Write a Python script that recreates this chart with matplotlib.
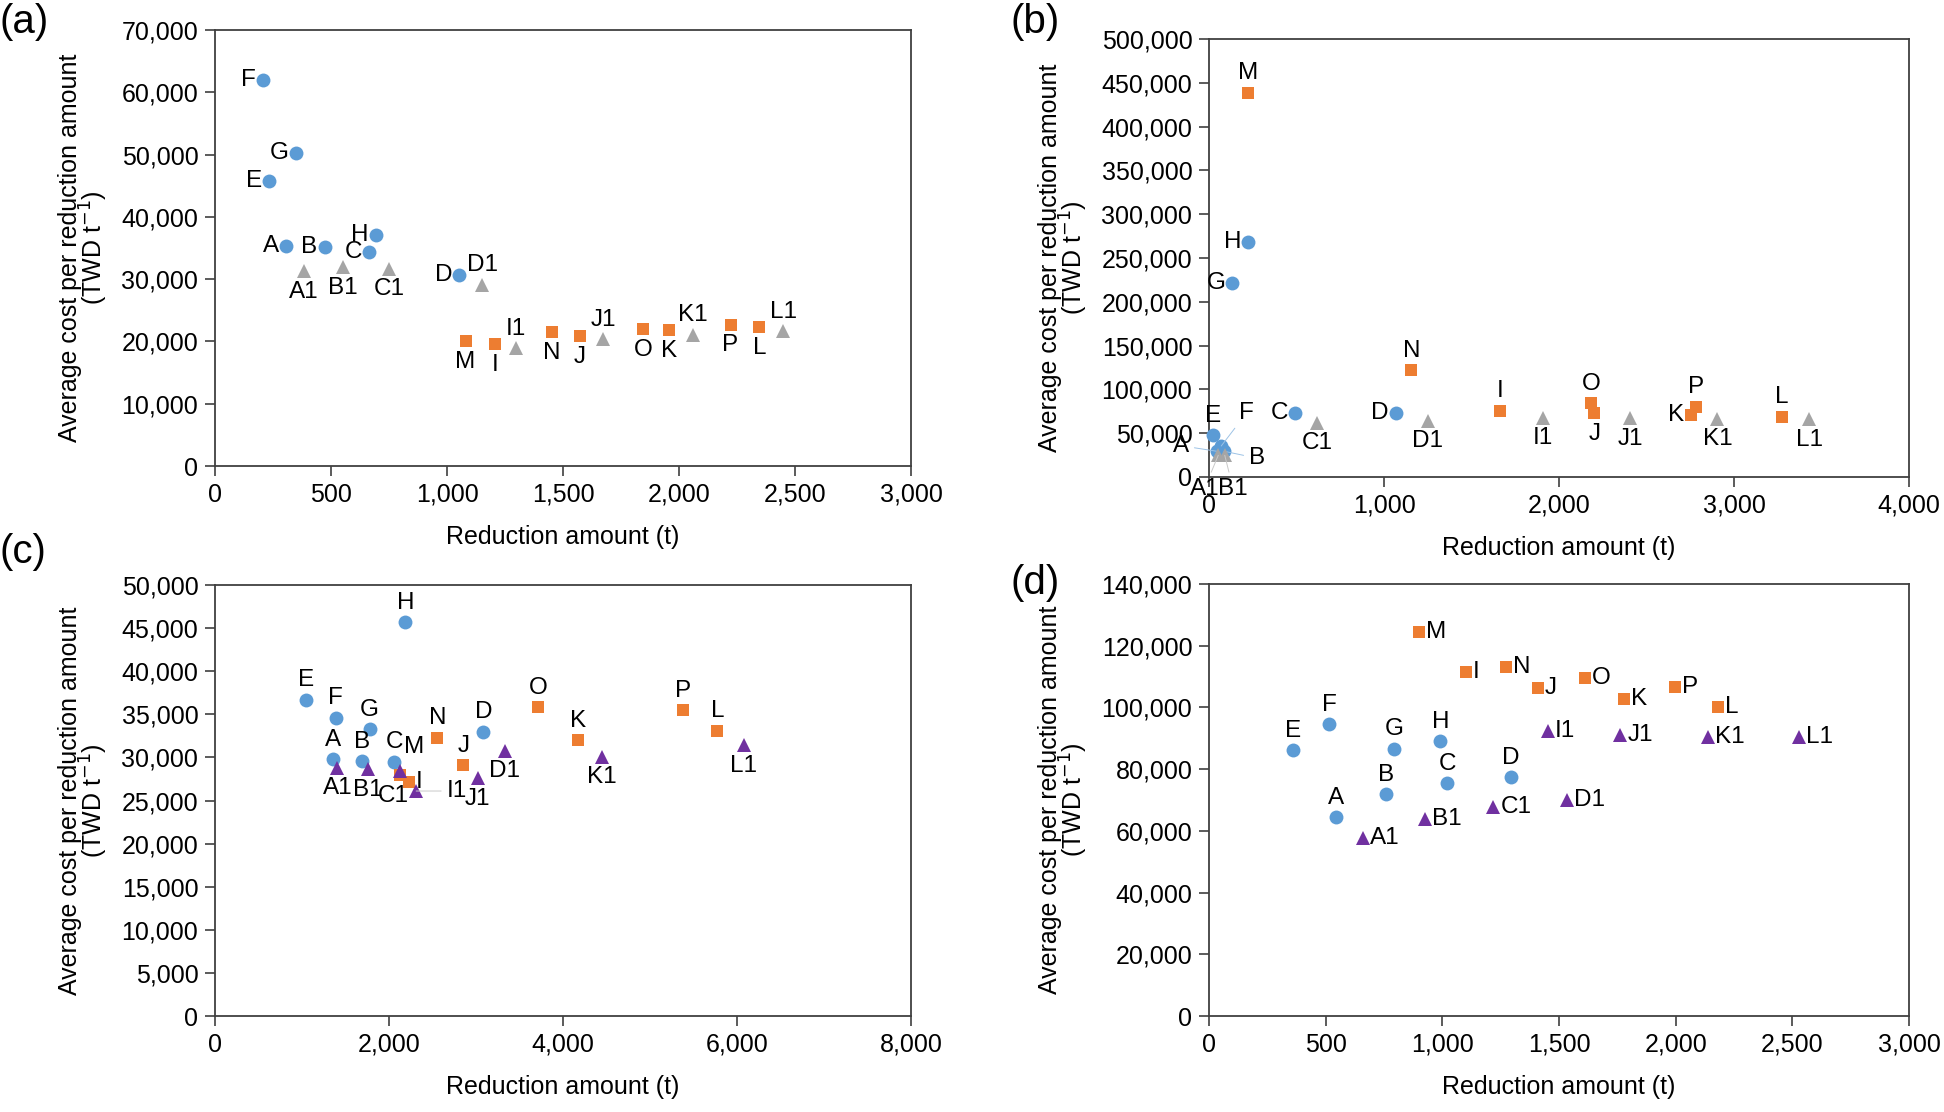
import matplotlib.pyplot as plt
from matplotlib.ticker import FuncFormatter, MultipleLocator

plt.rcParams['font.family'] = ['Liberation Sans', 'DejaVu Sans']

# point names shared by all panels
circle_names = ['A', 'B', 'C', 'D', 'E', 'F', 'G', 'H']
square_names = ['I', 'J', 'K', 'L', 'M', 'N', 'O', 'P']
tri_names = ['A1', 'B1', 'C1', 'D1', 'I1', 'J1', 'K1', 'L1']

# panel (a)
a_circle_x = [306, 472, 664, 1052, 232, 208, 349, 692]
a_circle_y = [35300, 35100, 34300, 30700, 45700, 61900, 50300, 37100]
a_square_x = [1206, 1573, 1956, 2346, 1080, 1451, 1845, 2222]
a_square_y = [19600, 20900, 21800, 22300, 20000, 21500, 22000, 22700]
a_tri_x = [383, 552, 750, 1152, 1297, 1673, 2059, 2450]
a_tri_y = [31300, 31900, 31700, 29100, 18900, 20400, 21100, 21600]

# panel (b)
b_circle_x = [44, 86, 493, 1067, 25, 70, 133, 225]
b_circle_y = [29400, 29400, 72800, 72800, 47600, 35400, 221700, 268300]
b_square_x = [1663, 2201, 2755, 3275, 225, 1156, 2185, 2783]
b_square_y = [75900, 72700, 70800, 68900, 438600, 121700, 84100, 80300]
b_tri_x = [53, 90, 619, 1251, 1908, 2406, 2905, 3430]
b_tri_y = [24800, 24800, 62100, 64400, 67800, 67000, 66700, 66300]

# panel (c)
c_circle_x = [1359, 1692, 2059, 3085, 1045, 1389, 1776, 2189]
c_circle_y = [29800, 29600, 29500, 33000, 36700, 34600, 33300, 45700]
c_square_x = [2231, 2855, 4173, 5773, 2128, 2556, 3715, 5375]
c_square_y = [27100, 29100, 32000, 33100, 28000, 32300, 35800, 35500]
c_tri_x = [1408, 1753, 2128, 3333, 2312, 3020, 4445, 6076]
c_tri_y = [28800, 28600, 28400, 30800, 26100, 27600, 30100, 31400]

# panel (d)
d_circle_x = [544, 760, 1022, 1294, 361, 515, 793, 992]
d_circle_y = [64500, 71900, 75400, 77300, 86200, 94600, 86600, 89100]
d_square_x = [1100, 1408, 1780, 2183, 900, 1272, 1611, 1996]
d_square_y = [111600, 106200, 102700, 100000, 124400, 113200, 109500, 106500]
d_tri_x = [658, 927, 1219, 1536, 1451, 1763, 2139, 2527]
d_tri_y = [57700, 63900, 67700, 70000, 92500, 91000, 90500, 90500]

BLUE = '#5B9BD5'
ORANGE = '#ED7D31'
GRAY = '#A5A5A5'
PURPLE = '#7030A0'

FS = 18      # ticks / axis titles
LFS = 17.5   # point labels

W, H = 1944, 1112
fig = plt.figure(figsize=(W / 100, H / 100), dpi=100)


def rect(l, r, t, b):
    return [l / W, 1 - b / H, (r - l) / W, (b - t) / H]


# label placement: direction -> offset (points), ha, va
OFF = {
    'l': ((-5, 0), 'right', 'center'),
    'r': ((5, 0), 'left', 'center'),
    'a': ((0, 6), 'center', 'bottom'),
    'b': ((0, -7), 'center', 'top'),
}


def setup(ax, xmax, xstep, ymax, ystep):
    ax.set_xlim(0, xmax)
    ax.set_ylim(0, ymax)
    ax.xaxis.set_major_locator(MultipleLocator(xstep))
    ax.yaxis.set_major_locator(MultipleLocator(ystep))
    fmt = FuncFormatter(lambda v, p: f'{v:,.0f}')
    ax.xaxis.set_major_formatter(fmt)
    ax.yaxis.set_major_formatter(fmt)
    ax.tick_params(direction='out', length=7, width=1.2, labelsize=FS,
                   color='#404040', pad=5)
    for s in ax.spines.values():
        s.set_color('#404040')
        s.set_linewidth(1.3)
    ax.set_xlabel('Reduction amount (t)', fontsize=FS, labelpad=13)
    ax.set_ylabel('Average cost per reduction amount\n(TWD t$^{-1}$)',
                  fontsize=FS, labelpad=8, linespacing=0.85)


def series(ax, xs, ys, names, marker, color, size, pos, special=None):
    ax.plot(xs, ys, linestyle='none', marker=marker, color=color,
            markersize=size, markeredgewidth=0, clip_on=False, zorder=3)
    special = special or {}
    for x, y, n, p in zip(xs, ys, names, pos):
        if n in special:
            (dx, dy), ha, va, lc = special[n]
            ax.annotate(n, (x, y), xytext=(dx, dy), textcoords='offset points',
                        ha=ha, va=va, fontsize=LFS,
                        arrowprops=dict(arrowstyle='-', color=lc, lw=0.7,
                                        shrinkA=2, shrinkB=0))
            continue
        (dx, dy), ha, va = OFF[p]
        ax.annotate(n, (x, y), xytext=(dx, dy), textcoords='offset points',
                    ha=ha, va=va, fontsize=LFS)


def panel_label(txt, x, y):
    fig.text(x / W, 1 - y / H, txt, fontsize=29, ha='left', va='center')


# (a)
ax = fig.add_axes(rect(215, 911, 30, 466))
setup(ax, 3000, 500, 70000, 10000)
series(ax, a_circle_x, a_circle_y, circle_names, 'o', BLUE, 10,
       ['l', 'l', 'l', 'l', 'l', 'l', 'l', 'l'])
series(ax, a_square_x, a_square_y, square_names, 's', ORANGE, 9,
       ['b', 'b', 'b', 'b', 'b', 'b', 'b', 'b'])
series(ax, a_tri_x, a_tri_y, tri_names, '^', GRAY, 9.5,
       ['b', 'b', 'b', 'a', 'a', 'a', 'a', 'a'])
panel_label('(a)', 0, 22)

# (b)
ax = fig.add_axes(rect(1209, 1909, 39, 477))
setup(ax, 4000, 1000, 500000, 50000)
series(ax, b_circle_x, b_circle_y, circle_names, 'o', BLUE, 10,
       ['l', 'r', 'l', 'l', 'a', 'r', 'l', 'l'],
       special={'A': ((-20, 4), 'right', 'center', '#9DC3E6'),
                'B': ((18, -5), 'left', 'center', '#9DC3E6'),
                'F': ((13, 24), 'left', 'center', '#9DC3E6')})
series(ax, b_square_x, b_square_y, square_names, 's', ORANGE, 9,
       ['a', 'b', 'l', 'a', 'a', 'a', 'a', 'a'])
series(ax, b_tri_x, b_tri_y, tri_names, '^', GRAY, 9.5,
       ['b', 'b', 'b', 'b', 'b', 'b', 'b', 'b'],
       special={'A1': ((-10, -24), 'center', 'center', '#C9C9C9'),
                'B1': ((6, -24), 'center', 'center', '#C9C9C9')})
panel_label('(b)', 1010, 22)

# (c)
ax = fig.add_axes(rect(215, 911, 585, 1016))
setup(ax, 8000, 2000, 50000, 5000)
series(ax, c_circle_x, c_circle_y, circle_names, 'o', BLUE, 10,
       ['a'] * 8)
series(ax, c_square_x, c_square_y, square_names, 's', ORANGE, 9,
       ['r', 'a', 'a', 'a', 'a', 'a', 'a', 'a'],
       special={'M': ((10, 12), 'center', 'bottom', 'none')})
series(ax, c_tri_x, c_tri_y, tri_names, '^', PURPLE, 9.5,
       ['b', 'b', 'b', 'b', 'r', 'b', 'b', 'b'],
       special={'C1': ((-5, -10), 'center', 'top', 'none'),
                'I1': ((22, 0), 'left', 'center', '#C9C9C9')})
panel_label('(c)', 0, 552)

# (d)
ax = fig.add_axes(rect(1209, 1909, 584, 1016))
setup(ax, 3000, 500, 140000, 20000)
series(ax, d_circle_x, d_circle_y, circle_names, 'o', BLUE, 10,
       ['a'] * 8)
series(ax, d_square_x, d_square_y, square_names, 's', ORANGE, 9,
       ['r'] * 8)
series(ax, d_tri_x, d_tri_y, tri_names, '^', PURPLE, 9.5,
       ['r'] * 8)
panel_label('(d)', 1010, 583)

fig.savefig('out.png', dpi=100)
